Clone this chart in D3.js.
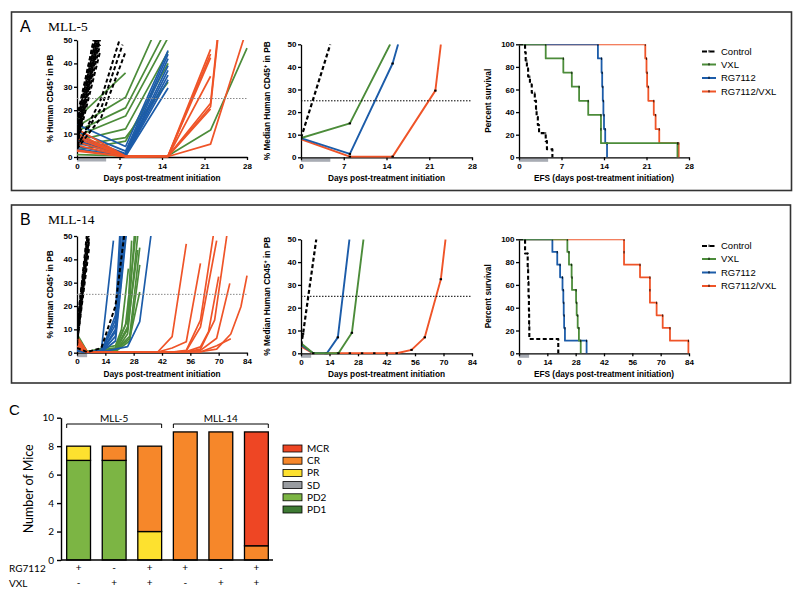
<!DOCTYPE html>
<html>
<head>
<meta charset="utf-8">
<script src="https://cdn.jsdelivr.net/npm/d3@7"></script>
<style>
body { margin: 0; background: #fff; }
.ax text { font-family: "Liberation Sans", Arial, sans-serif; font-weight: bold; font-size: 8px; fill: #000; }
.ax path, .ax line { stroke: #000; stroke-width: 1.3; }
.axc text { font-family: Lato, "Open Sans", sans-serif; font-size: 10px; fill: #000; }
.axc path, .axc line { stroke: #000; stroke-width: 1.4; }
</style>
</head>
<body>
<script>
// ---- data: MLL-5 (panel A), individual mice [day, % hCD45+] ----
var ctlA = [
    [[0,17],[3.8,62]], [[0,15],[3.8,58]], [[0,14],[3.8,64]], [[0,12],[3.8,55]],
    [[0,11],[3.8,60]], [[0,10],[3.8,52]], [[0,9],[3.8,50]], [[0,8],[3.8,56]],
    [[0,7],[3.8,48]], [[0,6],[3.8,53]], [[0,5],[3.8,45]],
    [[0,4],[4,25],[7,50]], [[0,5],[4,21],[7.5,48]], [[0,3.5],[4,17],[8,45]]
];
var vxlA = [
    [[0,16.5],[8,36]], [[0,13],[8,25.5],[15,66]], [[0,11],[8,21],[15,56]],
    [[0,9],[8,17.5],[15,51]], [[0,7],[8,12],[15,45]], [[0,5],[8,8.3],[15,32]],
    [[0,3],[8,6.8],[15,40]], [[0,1],[8,0.5],[15,0.5],[22,11.5],[28,46.5]]
];
var rgA = [
    [[0,14],[8,4.5],[15,45.5]], [[0,11],[8,2.5],[15,44]], [[0,9],[8,1.5],[15,42]],
    [[0,8],[8,1.2],[15,39]], [[0,7],[8,1],[15,37]], [[0,6],[8,0.8],[15,35]],
    [[0,4.5],[8,0.5],[15,33]], [[0,3.5],[8,0.3],[15,29.5]]
];
var comboA = [
    [[0,12],[8,0.3],[15,0.5],[22,46]], [[0,10],[8,0.3],[15,0.4],[22,44]],
    [[0,9],[8,0.2],[15,0.5],[22,42.5]], [[0,8],[8,0.3],[15,0.3],[22,34.5]],
    [[0,6.5],[8,0.2],[15,0.4],[22,23],[23.5,60]], [[0,5],[8,0.2],[15,0.3],[22,21.5],[23.5,58]],
    [[0,3],[8,0.1],[15,0.3],[22,20.5]], [[0,2.5],[8,0.1],[15,0.2],[22,5.5],[28,55]]
];
// medians
var medCtlA = [[0,8.5],[4.8,50]];
var medVxlA = [[0,8.5],[8,15],[14.6,50]];
var medRgA = [[0,8.5],[8,1.5],[15,41.5],[15.9,50]];
var medComboA = [[0,8],[8,0.3],[15,0.3],[22,29.5],[22.9,50]];
// event times (days) for EFS curves
var kmCtlA = [1.0,1.1,1.3,1.5,1.8,2.1,2.6,2.8,2.9,3.1,3.3,4.4,4.6,5.5];
var kmVxlA = [4.4,7.3,8.7,9.9,11.4,13.5,13.5,26.1];
var kmRgA = [13.0,13.6,13.7,13.8,13.9,14.0,14.2,14.5];
var kmComboA = [20.8,21.0,21.1,21.3,22.2,22.5,23.1,26.3];

// ---- data: MLL-14 (panel B) ----
var ctlB = [
    [[0,12],[6,55]], [[0,10],[6,60]], [[0,8],[6,52]], [[0,7],[6,48]],
    [[0,6],[6,57]], [[0,4],[6,45]], [[0,3],[6,50]],
    [[0,2],[5,0.3],[12,2],[19,20],[24,55]]
];
var vxlB = [
    [[0,8],[5,0.5],[19,1],[25,10],[28.5,52]], [[0,6],[5,0.3],[19,0.5],[25,8],[30,50]],
    [[0,5],[5,0.4],[19,2],[25,14],[27,48]], [[0,4],[5,0.2],[19,1],[26,7],[31,45]],
    [[0,3],[5,0.2],[19,0.5],[26,5],[31,37.6]], [[0,7],[5,0.5],[19,3],[22,10],[25.4,36]],
    [[0,2],[5,0.1],[19,1],[26,6],[31,26]], [[0,4],[5,0.2],[19,2],[24,12],[29,50]],
    [[0,3],[5,0.3],[19,1.5],[25,11],[30,44]]
];
var rgB = [
    [[0,2],[5,0.2],[12,0.8],[18,48]], [[0,1.5],[5,0.2],[12,0.5],[19,14],[23,55]],
    [[0,1],[5,0.1],[12,0.4],[19,10],[23.5,52]], [[0,2.5],[5,0.3],[12,1],[19,12],[22,54]],
    [[0,1],[5,0.1],[12,0.3],[19,7],[24,50]], [[0,0.8],[5,0.1],[12,0.3],[19,5],[24.5,52]],
    [[0,1.2],[5,0.2],[12,0.4],[19,9],[23,50]], [[0,3],[5,0.3],[12,0.6],[19,16],[21.5,56]],
    [[0,1],[5,0.2],[12,0.3],[25,2.6],[31,13.3],[36.5,50]]
];
var comboB = [
    [[0,7],[5,0.4],[40,0.4],[47,6.9],[54,46.6]],
    [[0,5],[5,0.3],[40,0.3],[47,2],[54,4.7],[61,38.3]],
    [[0,4],[5,0.2],[47,0.3],[54,1],[61,14],[67.5,51]],
    [[0,3],[5,0.2],[47,0.2],[54,0.8],[61,11],[69,48]],
    [[0,6],[5,0.3],[54,0.5],[61,2.5],[65,9],[70,32.6]],
    [[0,2.5],[5,0.2],[54,0.3],[61,1.5],[68,14],[74,50]],
    [[0,2],[5,0.1],[54,0.3],[61,1],[69,6.2],[75.5,29.7]],
    [[0,3.5],[5,0.2],[61,0.4],[69,1.5],[76,8],[81,19.7],[84,33]],
    [[0,4.5],[5,0.3],[61,0.3],[69,3],[76,6]]
];
var medCtlB = [[0,3.5],[1,8.5],[7.5,50]];
var medVxlB = [[0,4.4],[6,0],[18.4,0],[25,9],[30.7,50]];
var medRgB = [[0,3.7],[6,0],[12.7,0],[18.1,7],[23.8,50]];
var medComboB = [[0,3],[6,0],[12,0],[18,0],[24,0],[30,0],[36,0],[42,0],[47,0],[54.3,1.5],[60.8,7],[68.7,32.5],[71,50]];
var kmCtlB = [3.0,4.3,4.5,4.7,4.9,5.0,5.1,19.4];
var kmVxlB = [23.9,24.7,26.0,26.2,28.2,28.5,29.0,29.6,30.5];
var kmRgB = [16.5,18.9,20.3,21.5,21.9,22.1,22.3,22.7,33.4];
var kmComboB = [51.9,51.9,59.8,64.7,64.7,68,71,74.6,83.7];

var ticksA = [0,7,14,21,28];
var ticksB = [0,14,28,42,56,70,84];
var treatA = [0,4.8];
var treatB = [0,5];
var groupNames = ["Control","VXL","RG7112","RG7112/VXL"];

// ---- data: panel C ----
var barGroups = ["MLL-5","MLL-14"];
var rgSigns = ["+","-","+","+","-","+"];
var vxlSigns = ["-","+","+","-","+","+"];
var responses = ["PD1","PD2","SD","PR","CR","MCR"];
var pd1 = [0,0,0,0,0,0];
var pd2 = [7,7,0,0,0,0];
var sd = [0,0,0,0,0,0];
var pr = [1,0,2,0,0,0];
var cr = [0,1,6,9,9,1];
var mcr = [0,0,0,0,0,8];

var col = {ctl: "#000", vxl: "#4c8c3a", rg: "#1c5ca9", combo: "#ef5428"};
var respCol = {PD1: "#3e7a33", PD2: "#7cb544", SD: "#999ca1", PR: "#fde12f", CR: "#f6872a", MCR: "#ee4624"};
var sans = '"Liberation Sans", Arial, sans-serif';

var svg = d3.select("body").append("svg")
    .attr("width", 800).attr("height", 596)
    .style("display", "block");

// panel frames
svg.append("rect").attr("x", 11.5).attr("y", 12).attr("width", 780).attr("height", 178.5)
    .attr("fill", "none").attr("stroke", "#333").attr("stroke-width", 1.6);
svg.append("rect").attr("x", 11.5).attr("y", 205).attr("width", 779).attr("height", 178)
    .attr("fill", "none").attr("stroke", "#333").attr("stroke-width", 1.6);

function title(letter, name, yb) {
    svg.append("text").attr("x", 20).attr("y", yb).text(letter)
        .style("font-family", sans).style("font-size", "16px");
    svg.append("text").attr("x", 48).attr("y", yb - 1).text(name)
        .style("font-family", '"Liberation Serif", "Times New Roman", serif').style("font-size", "13.5px");
}
title("A", "MLL-5", 31.5);
title("B", "MLL-14", 225);

var clipN = 0;

function plot(o) {
    var x = d3.scaleLinear().domain([0, o.xmax]).range([o.x0, o.x1]);
    var y = d3.scaleLinear().domain([0, o.ymax]).range([o.yb, o.yt]);
    var g = svg.append("g");

    g.append("rect")
        .attr("x", x(o.treat[0])).attr("y", o.yb + 1)
        .attr("width", x(o.treat[1]) - x(o.treat[0])).attr("height", 3.5)
        .attr("fill", "#a8acb4");

    g.append("g").attr("class", "ax").attr("transform", "translate(0," + o.yb + ")")
        .call(d3.axisBottom(x).tickValues(o.xticks).tickSize(3).tickSizeOuter(0).tickPadding(3));
    g.append("g").attr("class", "ax").attr("transform", "translate(" + o.x0 + ",0)")
        .call(d3.axisLeft(y).tickValues(o.yticks).tickSize(3).tickSizeOuter(0).tickPadding(1.5));

    g.append("text")
        .attr("x", (o.x0 + o.x1) / 2).attr("y", o.yb + 24)
        .attr("text-anchor", "middle")
        .style("font-family", sans).style("font-weight", "bold").style("font-size", "8.3px")
        .text(o.xlab);

    var yl = g.append("text")
        .attr("transform", "translate(" + o.ylx + "," + (o.yb + o.yt) / 2 + ") rotate(-90)")
        .attr("text-anchor", "middle")
        .style("font-family", sans).style("font-weight", "bold").style("font-size", "8.3px");
    if (o.sup) {
        yl.append("tspan").text(o.ylab);
        yl.append("tspan").attr("dy", -3).style("font-size", "5.5px").text("+");
        yl.append("tspan").attr("dy", 3).text(" in PB");
    } else {
        yl.text(o.ylab);
    }

    clipN++;
    svg.append("clipPath").attr("id", "clip" + clipN).append("rect")
        .attr("x", o.x0).attr("y", o.yt).attr("width", o.x1 - o.x0 + 4).attr("height", o.yb - o.yt + 1);
    var inner = g.append("g").attr("clip-path", "url(#clip" + clipN + ")");

    return {g: g, inner: inner, x: x, y: y};
}

function refLine(p, v, color) {
    p.g.append("line")
        .attr("x1", p.x.range()[0]).attr("x2", p.x.range()[1])
        .attr("y1", p.y(v)).attr("y2", p.y(v))
        .attr("stroke", color).attr("stroke-width", 1)
        .attr("stroke-dasharray", "1.5,1.5");
}

function drawLines(p, mice, color, dashed, width) {
    var line = d3.line().x(function(d) { return p.x(d[0]); }).y(function(d) { return p.y(d[1]); });
    p.inner.selectAll(null).data(mice).enter().append("path")
        .attr("d", line)
        .attr("fill", "none")
        .attr("stroke", color)
        .attr("stroke-width", dashed ? width + 0.3 : width)
        .attr("stroke-dasharray", dashed ? "4,2.5" : null)
        .attr("stroke-linejoin", "round");
}

function drawMedian(p, pts, color, dashed) {
    drawLines(p, [pts], color, dashed, 1.9);
    p.inner.selectAll(null).data(pts.filter(function(d, i) { return d[1] < 50; })).enter()
        .append("rect")
        .attr("x", function(d) { return p.x(d[0]) - 1.2; })
        .attr("y", function(d) { return p.y(d[1]) - 1; })
        .attr("width", 2.4).attr("height", 2)
        .attr("fill", "#000");
}

function kmSteps(events) {
    var s = events.slice().sort(d3.ascending);
    var n = s.length, left = n;
    var pts = [[0, 100]];
    s.forEach(function(t) {
        pts.push([t, left / n * 100]);
        left--;
        pts.push([t, left / n * 100]);
    });
    return pts;
}

function drawKM(p, events, color, dashed) {
    var pts = kmSteps(events);
    drawLines(p, [pts], color, dashed, 1.8);
    // small tick marks at the steps
    p.inner.selectAll(null).data(pts.filter(function(d, i) { return i % 2 == 1; })).enter()
        .append("line")
        .attr("x1", function(d) { return p.x(d[0]); }).attr("x2", function(d) { return p.x(d[0]); })
        .attr("y1", function(d) { return p.y(d[1]) - 1; }).attr("y2", function(d) { return p.y(d[1]) + 1.5; })
        .attr("stroke", "#000").attr("stroke-width", 0.8);
}

function legend(x, ys) {
    var keys = ["ctl", "vxl", "rg", "combo"];
    keys.forEach(function(k, i) {
        svg.append("line").attr("x1", x).attr("x2", x + 14).attr("y1", ys[i]).attr("y2", ys[i])
            .attr("stroke", col[k]).attr("stroke-width", 2)
            .attr("stroke-dasharray", k == "ctl" ? "5,2.5" : null);
        svg.append("line").attr("x1", x + 7).attr("x2", x + 7).attr("y1", ys[i] - 1.5).attr("y2", ys[i] + 1)
            .attr("stroke", "#000").attr("stroke-width", 0.9);
        svg.append("text").attr("x", x + 19).attr("y", ys[i] + 3.3)
            .style("font-family", sans).style("font-size", "9.5px")
            .text(groupNames[i]);
    });
}

function row(o, ind, med, km, legendYs) {
    // individual mice
    var p1 = plot({x0: 77, x1: 247, yt: o.yt1, yb: o.yb1, xmax: o.xmax, ymax: 50, xticks: o.xticks,
        yticks: [0,10,20,30,40,50], treat: o.treat, xlab: "Days post-treatment initiation",
        ylab: "% Human CD45", sup: true, ylx: 53});
    refLine(p1, 25, "#888");
    drawLines(p1, ind[1], col.vxl, false, 1.7);
    drawLines(p1, ind[2], col.rg, false, 1.7);
    drawLines(p1, ind[3], col.combo, false, 1.7);
    drawLines(p1, ind[0], col.ctl, true, 1.7);

    // medians
    var p2 = plot({x0: 301, x1: 472, yt: o.yt2, yb: o.yb2, xmax: o.xmax, ymax: 50, xticks: o.xticks,
        yticks: [0,10,20,30,40,50], treat: o.treat, xlab: "Days post-treatment initiation",
        ylab: "% Median Human CD45", sup: true, ylx: 270});
    refLine(p2, 25, "#000");
    drawMedian(p2, med[3], col.combo, false);
    drawMedian(p2, med[2], col.rg, false);
    drawMedian(p2, med[1], col.vxl, false);
    drawMedian(p2, med[0], col.ctl, true);

    // EFS
    var p3 = plot({x0: 519, x1: 689, yt: o.yt2, yb: o.yb2, xmax: o.xmax, ymax: 100, xticks: o.xticks,
        yticks: [0,20,40,60,80,100], treat: o.treat, xlab: "EFS (days post-treatment initiation)",
        ylab: "Percent survival", sup: false, ylx: 491});
    drawKM(p3, km[3], col.combo, false);
    drawKM(p3, km[2], col.rg, false);
    drawKM(p3, km[1], col.vxl, false);
    drawKM(p3, km[0], col.ctl, true);

    legend(702, legendYs);
}

row({yt1: 40, yb1: 157, yt2: 44.3, yb2: 157.3, xmax: 28, xticks: ticksA, treat: treatA},
    [ctlA, vxlA, rgA, comboA], [medCtlA, medVxlA, medRgA, medComboA],
    [kmCtlA, kmVxlA, kmRgA, kmComboA], [51.5, 64.5, 78, 91.5]);
row({yt1: 236, yb1: 352.7, yt2: 239.3, yb2: 353.3, xmax: 84, xticks: ticksB, treat: treatB},
    [ctlB, vxlB, rgB, comboB], [medCtlB, medVxlB, medRgB, medComboB],
    [kmCtlB, kmVxlB, kmRgB, kmComboB], [246, 259, 272.5, 286]);

// ---- panel C ----
var cFont = 'Lato, "Open Sans", sans-serif';
svg.append("text").attr("x", 9).attr("y", 415).text("C")
    .style("font-family", sans).style("font-size", "15px");

var xc = d3.scaleBand().domain(d3.range(6)).range([61, 274]).paddingInner(0.33).paddingOuter(0.16);
var yc = d3.scaleLinear().domain([0, 10]).range([560, 417.7]);

var table = d3.range(6).map(function(i) {
    return {PD1: pd1[i], PD2: pd2[i], SD: sd[i], PR: pr[i], CR: cr[i], MCR: mcr[i]};
});
var stacked = d3.stack().keys(responses)(table);

var gc = svg.append("g");
stacked.forEach(function(layer) {
    gc.selectAll(null).data(layer.filter(function(d) { return d[1] > d[0]; })).enter()
        .append("rect")
        .attr("x", function(d) { return xc(table.indexOf(d.data)); })
        .attr("y", function(d) { return yc(d[1]); })
        .attr("width", xc.bandwidth())
        .attr("height", function(d) { return yc(d[0]) - yc(d[1]); })
        .attr("fill", respCol[layer.key])
        .attr("stroke", "#000").attr("stroke-width", 1.3);
});

gc.append("g").attr("class", "axc").attr("transform", "translate(61,0)")
    .call(d3.axisLeft(yc).tickValues([0,2,4,6,8,10]).tickSize(4).tickSizeOuter(0).tickPadding(3));
gc.append("line").attr("x1", 61).attr("x2", 273).attr("y1", 560).attr("y2", 560)
    .attr("stroke", "#000").attr("stroke-width", 1.4);

svg.append("text")
    .attr("transform", "translate(33," + (yc(5)) + ") rotate(-90)")
    .attr("text-anchor", "middle")
    .style("font-family", cFont).style("font-size", "12.5px")
    .text("Number of Mice");

// brackets above the two cell lines
barGroups.forEach(function(name, k) {
    var a = xc(k * 3), b = xc(k * 3 + 2) + xc.bandwidth();
    svg.append("path")
        .attr("d", "M" + a + "," + 428 + " V" + 424 + " H" + b + " V" + 428)
        .attr("fill", "none").attr("stroke", "#000").attr("stroke-width", 1);
    svg.append("text").attr("x", (a + b) / 2).attr("y", 421.5).attr("text-anchor", "middle")
        .style("font-family", cFont).style("font-size", "10px").text(name);
});

// treatment rows
[["RG7112", rgSigns, 572], ["VXL", vxlSigns, 586.5]].forEach(function(r) {
    svg.append("text").attr("x", 9).attr("y", r[2])
        .style("font-family", cFont).style("font-size", "10px").text(r[0]);
    svg.selectAll(null).data(r[1]).enter().append("text")
        .attr("x", function(d, i) { return xc(i) + xc.bandwidth() / 2; })
        .attr("y", r[2] - 1)
        .attr("text-anchor", "middle")
        .style("font-family", cFont).style("font-size", "10px")
        .text(function(d) { return d; });
});

// legend C (top to bottom MCR .. PD1)
responses.slice().reverse().forEach(function(k, i) {
    var yy = 445 + i * 12.2;
    svg.append("rect").attr("x", 283).attr("y", yy).attr("width", 19).attr("height", 7)
        .attr("fill", respCol[k]).attr("stroke", "#000").attr("stroke-width", 0.8);
    svg.append("text").attr("x", 307).attr("y", yy + 7)
        .style("font-family", cFont).style("font-size", "10px").text(k);
});
</script>
</body>
</html>
